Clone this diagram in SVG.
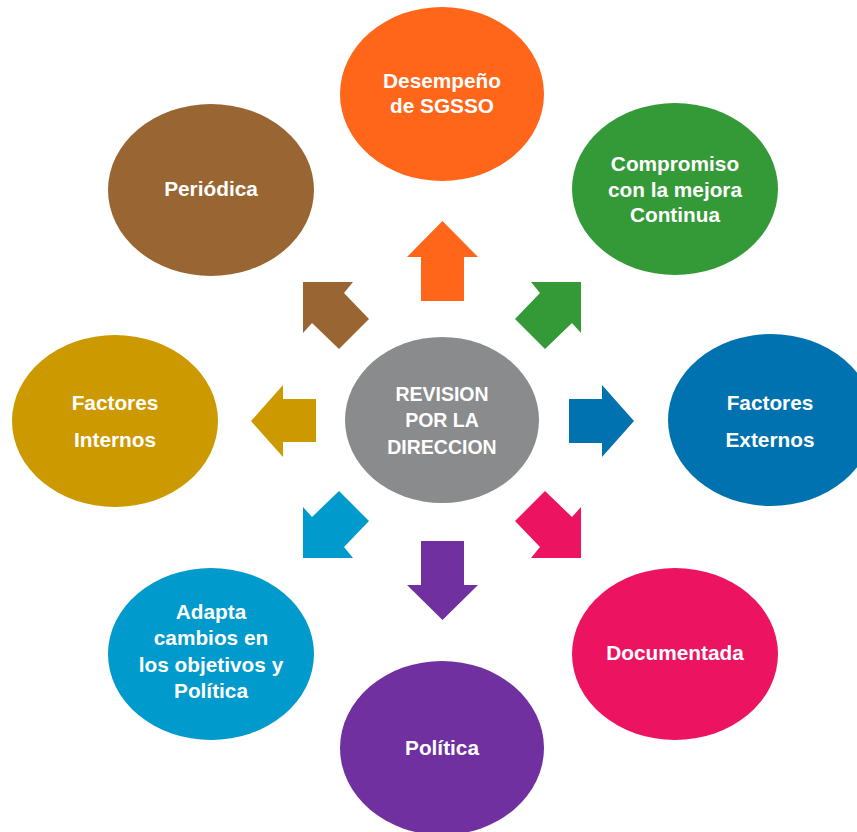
<svg xmlns="http://www.w3.org/2000/svg" width="857" height="832" viewBox="0 0 857 832">
<style>
  text { font-family: "Liberation Sans", Arial, sans-serif; font-weight: bold; fill: #ffffff; text-anchor: middle; font-size: 20.8px; }
  .c { font-size: 19.5px; }
</style>
<rect width="857" height="832" fill="#ffffff"/>
<g id="connectors">
  <polygon id="a-up" fill="#FF661A" points="442.5,221 478,257 464,257 464,301 421,301 421,257 407,257"/>
  <polygon id="a-ne" fill="#349A37" points="581,282 581,333 572,323 545,349 515,319 540,293 531,282"/>
  <polygon id="a-right" fill="#0072B0" points="569,399 602,399 602,385 634,421 602,457 602,443 569,443"/>
  <polygon id="a-se" fill="#EC1461" points="581,558 531,558 540,547 515,521 545,491 572,517 581,507"/>
  <polygon id="a-down" fill="#7030A0" points="421,541 464,541 464,585 478,585 442.5,620 407,585 421,585"/>
  <polygon id="a-sw" fill="#009ACD" points="303,558 353,558 344,547 369,521 339,491 312,517 303,507"/>
  <polygon id="a-left" fill="#CC9900" points="251,421 283,385 283,399 316,399 316,442 283,442 283,457"/>
  <polygon id="a-nw" fill="#996633" points="303,282 353,282 344,293 369,319 339,349 312,323 303,333"/>
</g>
<g id="center">
  <ellipse cx="442" cy="420" rx="97" ry="83" fill="#8A8B8D"/>
  <text class="c" x="442" y="401">REVISION</text>
  <text class="c" x="442" y="427">POR LA</text>
  <text class="c" x="442" y="454">DIRECCION</text>
</g>
<g id="desempeno">
  <ellipse cx="442" cy="94" rx="102" ry="87" fill="#FF661A"/>
  <text x="442" y="88">Desempeño</text>
  <text x="442" y="113">de SGSSO</text>
</g>
<g id="compromiso">
  <ellipse cx="675" cy="189" rx="103" ry="86" fill="#349A37"/>
  <text x="675" y="171">Compromiso</text>
  <text x="675" y="197">con la mejora</text>
  <text x="675" y="222">Continua</text>
</g>
<g id="externos">
  <ellipse cx="771" cy="420" rx="103" ry="86" fill="#0072B0"/>
  <text x="770" y="410">Factores</text>
  <text x="770" y="447">Externos</text>
</g>
<g id="documentada">
  <ellipse cx="675" cy="654" rx="103" ry="86" fill="#EC1461"/>
  <text x="675" y="660">Documentada</text>
</g>
<g id="politica">
  <ellipse cx="442" cy="748" rx="102" ry="87" fill="#7030A0"/>
  <text x="442" y="755">Política</text>
</g>
<g id="adapta">
  <ellipse cx="211" cy="654" rx="103" ry="86" fill="#009ACD"/>
  <text x="211" y="619">Adapta</text>
  <text x="211" y="645">cambios en</text>
  <text x="211" y="672">los objetivos y</text>
  <text x="211" y="698">Política</text>
</g>
<g id="internos">
  <ellipse cx="115" cy="421" rx="103" ry="86" fill="#CC9900"/>
  <text x="115" y="410">Factores</text>
  <text x="115" y="447">Internos</text>
</g>
<g id="periodica">
  <ellipse cx="211" cy="190" rx="103" ry="86" fill="#996633"/>
  <text x="211" y="196">Periódica</text>
</g>
</svg>
